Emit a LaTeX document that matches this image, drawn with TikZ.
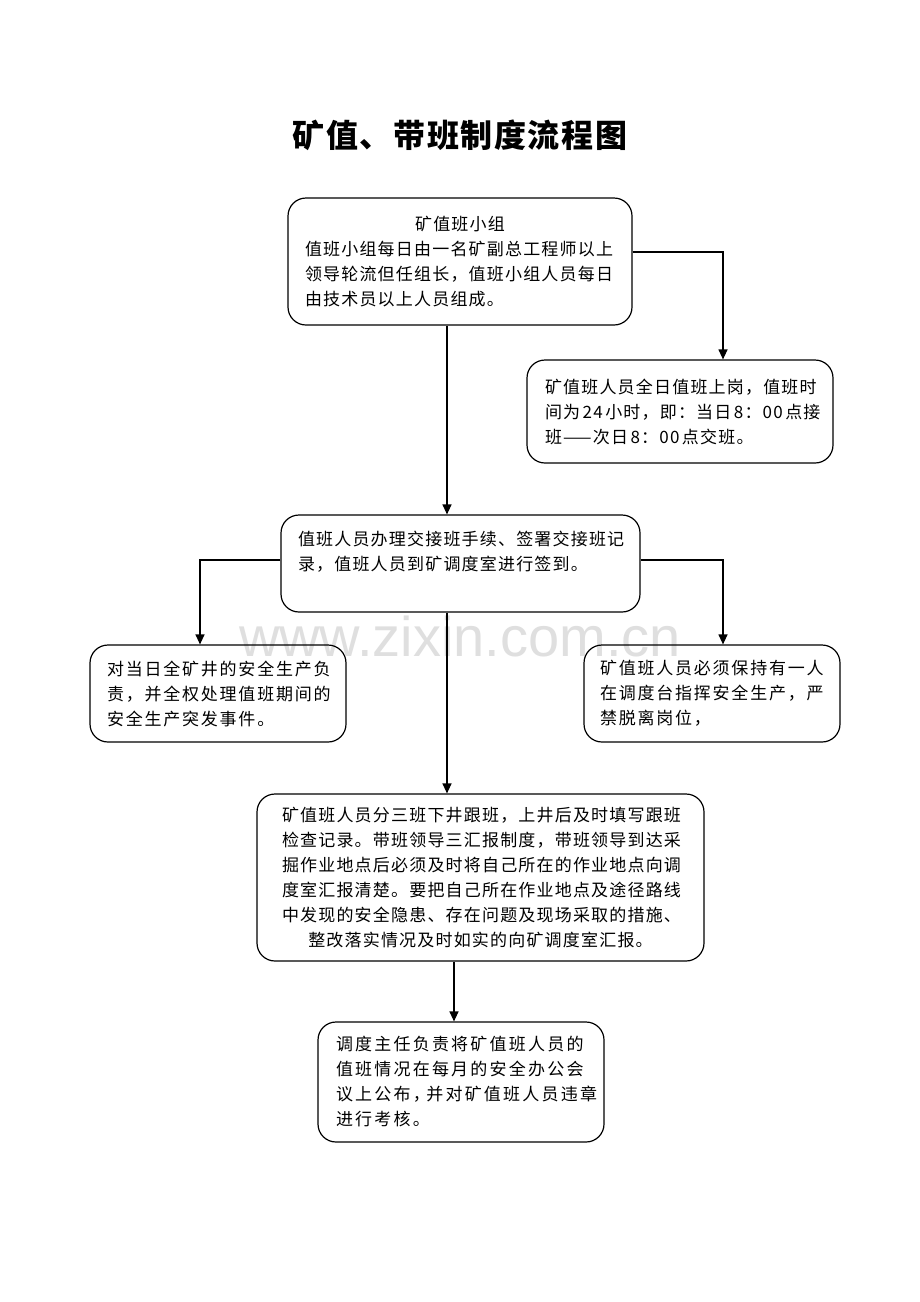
\documentclass[tikz,border=0pt]{standalone}
\usepackage{fontspec}
\setmainfont{Noto Sans CJK SC}
\newfontfamily\wmfont{Liberation Sans}
\usetikzlibrary{arrows.meta}
\newcommand{\midline}[1]{\hbox to\hsize{\hss#1\hss}}
\newcommand{\gp}{\kern2.5pt}
\begin{document}
\begin{tikzpicture}[x=1pt,y=-1pt,
  box/.style={draw, line width=1.2pt, rounded corners=18pt, align=left, inner ysep=0pt,
    font=\fontsize{17}{25}\selectfont\addfontfeature{LetterSpace=7}},
  wide/.style={font=\fontsize{17}{25}\selectfont\addfontfeature{LetterSpace=10.5}},
  wider/.style={font=\fontsize{17}{25}\selectfont\addfontfeature{LetterSpace=13}},
  arr/.style={line width=1.2pt, -{Triangle[length=10pt,width=9pt]}},
]
\useasboundingbox[fill=white] (0,0) rectangle (920,1302);

% watermark
\node[text=gray!25, font=\wmfont\fontsize{56}{56}\selectfont] (wm) at (460,636) {www.zixin.com.cn};

% title
\node[font=\fontsize{32}{32}\selectfont\bfseries\addfontfeature{LetterSpace=5}] (title) at (460,135) {矿值、带班制度流程图};

\node[box, minimum width=344pt, minimum height=127pt, text width=310pt] (b1) at (460,261.5)
  {\midline{矿值班小组}\\值班小组每日由一名矿副总工程师以上\\领导轮流但任组长，值班小组人员每日\\由技术员以上人员组成。};

\node[box, minimum width=306pt, minimum height=103pt, text width=270pt] (b2) at (680,411.5)
  {矿值班人员全日值班上岗，值班时\\间为\gp 24\gp 小时，即：当日\gp 8：00\gp 点接\\班——次日\gp 8：00\gp 点交班。};

\node[box, minimum width=359pt, minimum height=97pt, text width=325pt] (b3) at (460.5,563.5)
  {值班人员办理交接班手续、签署交接班记\\录，值班人员到矿调度室进行签到。\\\mbox{}};

\node[box, wide, minimum width=256pt, minimum height=97pt, text width=222pt] (b4) at (218,693.5)
  {对当日全矿井的安全生产负\\责，并全权处理值班期间的\\安全生产突发事件。};

\node[box, wide, minimum width=256pt, minimum height=97pt, text width=224pt] (b5) at (712,693.5)
  {矿值班人员必须保持有一人\\在调度台指挥安全生产，严\\禁脱离岗位，};

\node[box, minimum width=447pt, minimum height=167pt, text width=397pt] (b6) at (480.5,877.5)
  {矿值班人员分三班下井跟班，上井后及时填写跟班\\检查记录。带班领导三汇报制度，带班领导到达采\\掘作业地点后必须及时将自己所在的作业地点向调\\度室汇报清楚。要把自己所在作业地点及途径路线\\中发现的安全隐患、存在问题及现场采取的措施、\\\midline{整改落实情况及时如实的向矿调度室汇报。}};

\node[box, wider, minimum width=286pt, minimum height=120pt, text width=250pt] (b7) at (461,1082)
  {调度主任负责将矿值班人员的\\值班情况在每月的安全办公会\\议上公布，\kern-3.5pt 并对矿值班人员违章\\进行考核。};

\coordinate (xa) at (447,0);
\coordinate (xb) at (454,0);

\draw[arr] ([yshift=9.5pt]b1.east) -| ([xshift=43pt]b2.north);
\draw[arr] (b1.south -| xa) -- (b3.north -| xa);
\draw[arr] ([yshift=3.5pt]b3.west) -| ([xshift=-18pt]b4.north);
\draw[arr] ([yshift=3.5pt]b3.east) -| ([xshift=11pt]b5.north);
\draw[arr] (b3.south -| xa) -- (b6.north -| xa);
\draw[arr] (b6.south -| xb) -- (b7.north -| xb);
\end{tikzpicture}
\end{document}
